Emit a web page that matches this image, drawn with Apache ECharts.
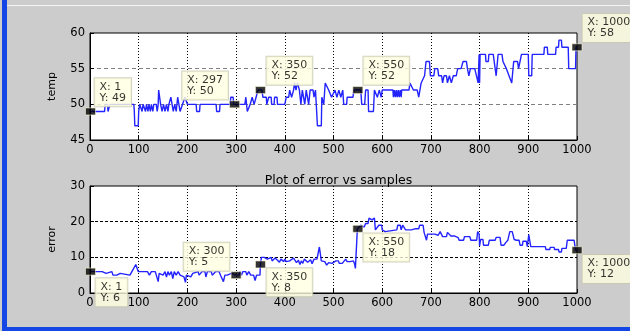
<!DOCTYPE html>
<html>
<head>
<meta charset="utf-8">
<script src="https://cdn.jsdelivr.net/npm/echarts@6/dist/echarts.min.js"></script>
<style>
  html, body { margin: 0; padding: 0; background: #cccccc; }
  #chart { width: 630px; height: 331px; }
</style>
</head>
<body>
<div id="chart"></div>
<script>
// Axis ticks
const sampleTicks = [0, 100, 200, 300, 400, 500, 600, 700, 800, 900, 1000];
const tempTicks = [45, 50, 55, 60];
const errorTicks = [0, 10, 20, 30];

// Temperature per sample: [sample, temp]
const tempTrace = [
  [1,49],[30,49],[31,50],[36,50],[37,49],[40,49],[41,50],[90,50],[91,49],[92,47],[99,47],[100,49],
  [102,50],[105,50],[107,49],[109,50],[112,50],[114,49],[116,50],[119,49],[121,50],[124,49],[126,50],
  [129,49],[131,50],[136,50],[138,49],[140,50],[141,52],[143,52],[145,50],[148,49],[151,50],[154,49],
  [157,50],[160,49],[162,50],[166,51],[170,51],[171,49],[174,50],[177,49],[180,51],[183,51],[185,49],
  [190,50],[195,51],[200,50],[218,50],[219,49],[225,49],[226,50],[259,50],[260,49],[266,49],[267,50],
  [288,50],[289,51],[294,51],[295,50],[318,50],[320,51],[322,51],[323,49],[327,49],[329,50],[333,51],
  [337,50],[341,51],[345,52],[353,52],[355,51],[362,51],[363,50],[366,50],[367,51],[372,51],[373,50],
  [378,50],[379,51],[384,51],[385,50],[400,50],[403,51],[408,51],[410,52],[414,51],[418,52],[420,53],
  [423,52],[426,53],[430,52],[433,50],[436,52],[440,52],[441,50],[444,52],[448,52],[449,50],[452,52],
  [458,52],[460,51],[463,52],[466,52],[467,47],[475,47],[476,51],[480,50],[483,53],[487,53],[490,52],
  [494,52],[496,51],[500,51],[503,52],[507,51],[511,52],[515,51],[519,52],[521,50],[527,50],[528,51],
  [540,51],[542,52],[556,52],[558,50],[564,50],[566,52],[571,52],[572,49],[582,49],[584,52],[590,51],
  [594,52],[598,51],[600,52],[622,52],[623,51],[625,52],[627,51],[629,52],[631,51],[633,52],[635,51],
  [637,52],[639,51],[640,52],[655,52],[657,53],[661,53],[664,52],[672,52],[675,51],[678,51],[680,53],
  [684,53],[687,54],[690,56],[697,56],[699,54],[706,54],[708,55],[714,55],[716,54],[722,54],[724,53],
  [727,54],[732,54],[734,53],[738,54],[742,53],[746,54],[752,54],[755,55],[762,55],[766,56],[773,56],
  [775,55],[778,54],[781,55],[790,55],[797,53],[799,57],[800,53],[801,57],[812,57],[813,56],[818,56],
  [819,57],[828,57],[830,56],[834,54],[838,57],[846,57],[848,56],[855,55],[858,55],[866,53],[870,56],
  [878,56],[880,55],[884,55],[886,57],[900,57],[901,54],[907,54],[908,57],[932,57],[933,58],[939,58],
  [940,57],[956,57],[957,58],[962,58],[963,59],[968,59],[969,58],[982,58],[983,55],[997,55],[998,58],
  [1000,58]
];

// Error per sample: [sample, error]
const errorTrace = [
  [1,6],[25,6],[27,5.5],[33,5.5],[35,6],[45,6],[47,5],[55,5],[57,5.5],[62,5.5],[64,5],[82,5],[88,6.5],
  [94,8],[97,8],[99,6],[104,6],[106,5.5],[110,6],[114,5.5],[118,6],[122,5],[126,6],[130,5.5],[134,6],
  [137,5.5],[140,3.2],[142,5.5],[146,6],[150,5],[154,6],[157,4.5],[160,6],[163,5],[167,6],[170,4],
  [173,6],[177,5],[181,6],[185,5],[189,5.5],[193,4.5],[196,3],[198,5],[202,5.5],[207,4.5],[211,5.5],
  [214,6],[222,6],[224,5],[228,5],[230,6],[236,6],[238,4.5],[241,6],[249,6],[251,5],[255,5],[258,6],
  [265,6],[268,5],[271,5.5],[274,3.2],[277,5],[282,5],[285,5.5],[290,5.5],[292,5],[300,5],[306,5],
  [308,6],[311,5],[314,6],[317,6.5],[320,6],[322,5],[326,6],[330,5],[333,4.5],[336,5],[339,3.5],
  [342,5],[346,5],[349,5],[350,8],[352,10],[358,10],[360,9.5],[364,9.5],[366,10],[372,10],[374,9],
  [377,9.5],[380,9.8],[385,9.2],[389,8.6],[392,9.5],[396,9.5],[398,8.8],[400,9.5],[403,8.8],[407,8.5],
  [410,9],[413,9.5],[418,9.8],[421,9.8],[424,8.5],[428,9.2],[431,8],[434,9],[437,8.3],[440,9.5],
  [444,9.8],[447,8.6],[450,8.4],[453,9.3],[456,8.2],[460,9.5],[466,9.5],[468,9],[471,12.9],[473,12.9],
  [475,9],[479,8.5],[482,8.8],[486,7.8],[490,8.5],[494,8.3],[497,8.3],[500,8.5],[505,9],[510,9],
  [512,8.3],[518,8.3],[521,8.5],[525,9.5],[528,8.8],[534,8.8],[537,9],[541,9],[543,8.3],[545,6.9],
  [547,7],[549,18],[551,18],[556,19],[560,19],[563,18.5],[566,19.5],[571,19.5],[573,21],[576,21],
  [579,20.5],[581,21],[584,21],[586,17.7],[590,17.7],[593,19],[599,19],[600,17.7],[604,17.7],
  [606,17.2],[610,17.7],[630,17.7],[632,19],[637,19],[639,17.7],[642,19],[646,19],[648,17.7],
  [660,17.7],[663,18],[667,18],[670,18.5],[675,18],[677,19],[684,19],[686,17],[689,16.5],[691,14.8],
  [693,16.5],[708,16.5],[715,16.2],[719,17.2],[722,17.2],[724,15.8],[732,15.8],[734,17],[738,17],
  [741,16],[748,16],[750,15.5],[756,15.5],[758,14.8],[767,14.8],[769,15.8],[780,15.8],[782,14.8],
  [794,14.8],[796,17.2],[799,16.5],[800,13.2],[802,15],[807,15],[808,13.4],[818,13.4],[820,14.8],
  [832,14.8],[834,15.6],[842,15.6],[844,13.4],[850,13.4],[854,14.2],[858,14.8],[862,17.2],[867,17.2],
  [871,15],[876,14.8],[881,14.8],[883,13.4],[888,13.4],[889,14.5],[896,14.5],[898,13],[900,13],
  [901,16.4],[904,16.4],[905,13],[935,13],[936,12.2],[944,12.2],[945,12.8],[953,12.8],[954,12.2],
  [962,12.2],[963,11.5],[968,11.5],[969,12.5],[978,12.5],[980,14.8],[994,14.8],[997,12],[1000,12]
];

// Data cursors
const tempTipSample = [1, 297, 350, 550, 1000];
const tempTipValue = [49, 50, 52, 52, 58];
const errorTipSample = [1, 300, 350, 550, 1000];
const errorTipValue = [6, 5, 8, 18, 12];

// Where each cursor's text box sits relative to its marker
const tempTipOffsets = [[9.5, -29.5], [-47, -29], [11.5, -29.5], [11, -29.5], [11, -29.5]];
const errorTipOffsets = [[10.5, 10.5], [-47, -28.5], [11.5, 7.5], [11, 8.5], [11, 8.5]];

const FONT = 'DejaVu Sans';

function xAxisFor(gridIndex) {
  return {
    type: 'value', gridIndex,
    min: sampleTicks[0], max: sampleTicks[sampleTicks.length - 1],
    interval: sampleTicks[1] - sampleTicks[0],
    axisLine: { show: true, onZero: false, lineStyle: { color: '#000', width: 1 } },
    axisTick: { show: true, inside: true, length: 4, lineStyle: { color: '#000' } },
    axisLabel: { color: '#000', fontFamily: FONT, fontSize: 11.5, margin: 4, formatter: v => String(v) },
    splitLine: { show: true, showMinLine: false, showMaxLine: false,
      lineStyle: { color: '#000', type: [1, 2], width: 1 } }
  };
}

function yAxisFor(gridIndex, ticks, name, gridColor, dash) {
  return {
    type: 'value', gridIndex,
    min: ticks[0], max: ticks[ticks.length - 1], interval: ticks[1] - ticks[0],
    name, nameLocation: 'middle', nameGap: 32, nameRotate: 90,
    nameTextStyle: { color: '#000', fontFamily: FONT, fontSize: 11 },
    axisLine: { show: true, onZero: false, lineStyle: { color: '#000', width: 1 } },
    axisTick: { show: true, inside: true, length: 4, lineStyle: { color: '#000' } },
    axisLabel: { color: '#000', fontFamily: FONT, fontSize: 11.5, margin: 5, formatter: v => String(v) },
    splitLine: { show: true, showMinLine: false, showMaxLine: false,
      lineStyle: { color: gridColor, type: dash, width: 1 } }
  };
}

function traceSeries(idx, data) {
  return {
    type: 'line', xAxisIndex: idx, yAxisIndex: idx, data,
    showSymbol: false, symbol: 'none', silent: true,
    lineStyle: { color: '#2323ff', width: 1.4 }, z: 3
  };
}

function tipSeries(idx, xs, ys, offsets) {
  return {
    type: 'scatter', xAxisIndex: idx, yAxisIndex: idx, silent: true, clip: false, z: 6,
    symbol: 'rect', symbolSize: [10, 7],
    itemStyle: { color: '#000', borderColor: '#fffbd8', borderWidth: 0.7 },
    data: xs.map((x, i) => ({ value: [x, ys[i]], label: { position: offsets[i] } })),
    label: {
      show: true, align: 'left', verticalAlign: 'top',
      formatter: p => 'X: ' + p.value[0] + '\nY: ' + p.value[1],
      fontFamily: FONT, fontSize: 11, lineHeight: 11, color: '#000',
      backgroundColor: '#ffffe1', borderColor: '#c8c8b0', borderWidth: 1,
      padding: [3, 5, 3, 5]
    }
  };
}

const chart = echarts.init(document.getElementById('chart'), null, { renderer: 'canvas' });
chart.setOption({
  animation: false,
  backgroundColor: '#cccccc',
  title: {
    text: 'Plot of error vs samples', left: 333.5, top: 169, textAlign: 'center',
    textStyle: { color: '#000', fontFamily: FONT, fontSize: 12.5, fontWeight: 'normal' }
  },
  graphic: [
    { type: 'rect', shape: { x: 2, y: 0, width: 5, height: 331 }, style: { fill: '#1446e6' }, silent: true },
    { type: 'rect', shape: { x: 2, y: 327, width: 628, height: 4 }, style: { fill: '#1446e6' }, silent: true },
    { type: 'rect', shape: { x: 7, y: 5, width: 623, height: 1 }, style: { fill: '#f4f4f4' }, silent: true }
  ],
  grid: [
    { left: 90, top: 33, width: 487, height: 107, show: true, backgroundColor: '#fff', borderColor: '#000', borderWidth: 1 },
    { left: 90, top: 186, width: 487, height: 107, show: true, backgroundColor: '#fff', borderColor: '#000', borderWidth: 1 }
  ],
  xAxis: [xAxisFor(0), xAxisFor(1)],
  yAxis: [
    yAxisFor(0, tempTicks, 'temp', '#808080', [4, 3]),
    yAxisFor(1, errorTicks, 'error', '#000', [3, 2])
  ],
  series: [
    traceSeries(0, tempTrace),
    traceSeries(1, errorTrace),
    tipSeries(0, tempTipSample, tempTipValue, tempTipOffsets),
    tipSeries(1, errorTipSample, errorTipValue, errorTipOffsets)
  ]
});
</script>
</body>
</html>
